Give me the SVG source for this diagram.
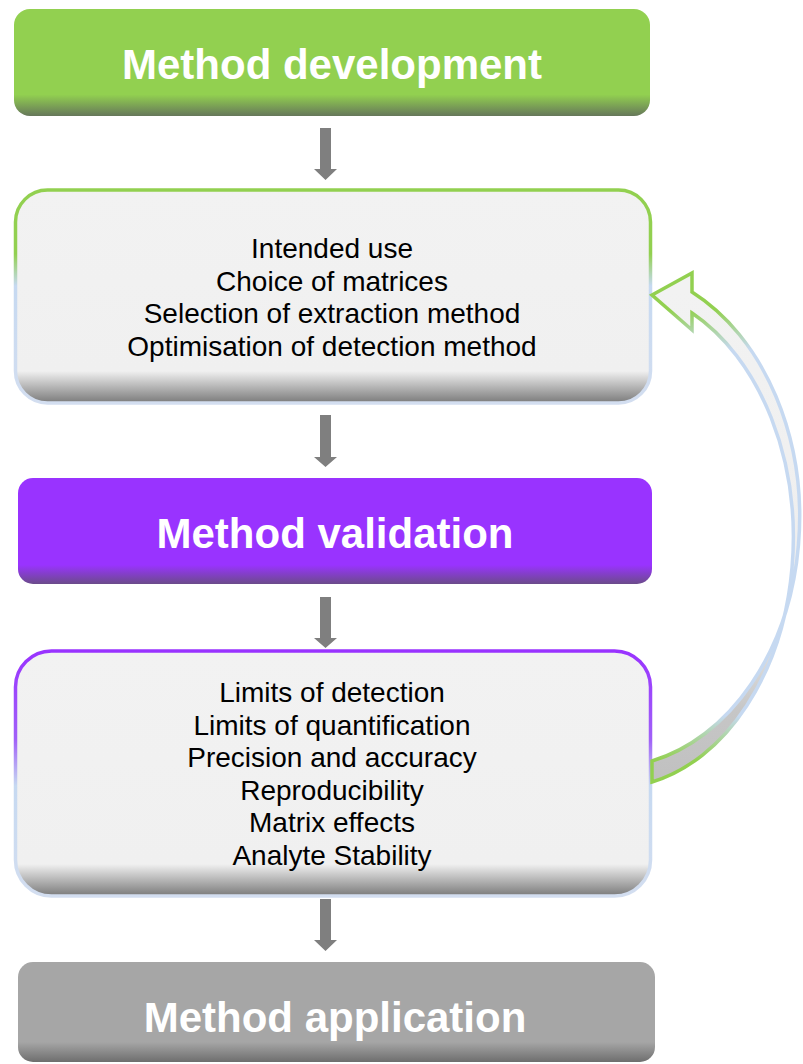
<svg xmlns="http://www.w3.org/2000/svg" width="803" height="1064" viewBox="0 0 803 1064">
<defs>
<linearGradient id="gGreen" x1="0" y1="0" x2="0" y2="1">
<stop offset="0" stop-color="#92d050"/><stop offset="0.8" stop-color="#92d050"/><stop offset="1" stop-color="#66775a"/>
</linearGradient>
<linearGradient id="gPurple" x1="0" y1="0" x2="0" y2="1">
<stop offset="0" stop-color="#9933ff"/><stop offset="0.82" stop-color="#9933ff"/><stop offset="1" stop-color="#6b4c8a"/>
</linearGradient>
<linearGradient id="gGray" x1="0" y1="0" x2="0" y2="1">
<stop offset="0" stop-color="#a6a6a6"/><stop offset="0.8" stop-color="#a6a6a6"/><stop offset="1" stop-color="#6e6e6e"/>
</linearGradient>
<linearGradient id="gLight" x1="0" y1="0" x2="0" y2="1">
<stop offset="0" stop-color="#f2f2f2"/><stop offset="0.85" stop-color="#f0f0f0"/><stop offset="1" stop-color="#7a7a7a"/>
</linearGradient>
<linearGradient id="gLight4" x1="0" y1="0" x2="0" y2="1">
<stop offset="0" stop-color="#f2f2f2"/><stop offset="0.87" stop-color="#f0f0f0"/><stop offset="1" stop-color="#7a7a7a"/>
</linearGradient>
<linearGradient id="bGreen" x1="0" y1="0" x2="0" y2="1">
<stop offset="0" stop-color="#92d050"/><stop offset="0.3" stop-color="#92d050"/><stop offset="0.45" stop-color="#c6d9f1"/><stop offset="1" stop-color="#d3def0"/>
</linearGradient>
<linearGradient id="bPurple" x1="0" y1="0" x2="0" y2="1">
<stop offset="0" stop-color="#9933ff"/><stop offset="0.36" stop-color="#a060f8"/><stop offset="0.55" stop-color="#c6d9f1"/><stop offset="1" stop-color="#d3def0"/>
</linearGradient>
<linearGradient id="aStroke" gradientUnits="userSpaceOnUse" x1="0" y1="290" x2="0" y2="785">
<stop offset="0" stop-color="#92d050"/><stop offset="0.04" stop-color="#92d050"/><stop offset="0.12" stop-color="#c6d9f1"/><stop offset="0.86" stop-color="#c6d9f1"/><stop offset="0.95" stop-color="#92d050"/><stop offset="1" stop-color="#92d050"/>
</linearGradient>
<linearGradient id="aFill" gradientUnits="userSpaceOnUse" x1="0" y1="290" x2="0" y2="785">
<stop offset="0" stop-color="#f2f2f2"/><stop offset="0.65" stop-color="#eeeeee"/><stop offset="0.85" stop-color="#c6c6c6"/><stop offset="1" stop-color="#c0c0c0"/>
</linearGradient>
<style>
.title{font-family:"Liberation Sans",Arial,sans-serif;font-weight:bold;font-size:42px;fill:#ffffff;text-anchor:middle}
.body{font-family:"Liberation Sans",Arial,sans-serif;font-size:28px;fill:#000000;text-anchor:middle}
.conn{fill:#7f7f7f}
</style>
</defs>
<rect width="803" height="1064" fill="#ffffff"/>

<g id="connectors">
<path class="conn" d="M320,128 H331 V169 H337 L325.5,180 L314,169 H320 Z"/>
<path class="conn" d="M320,415 H331 V457 H337 L325.5,467 L314,457 H320 Z"/>
<path class="conn" d="M320,597 H331 V638 H337 L325.5,648 L314,638 H320 Z"/>
<path class="conn" d="M320,899 H331 V940 H337 L325.5,951 L314,940 H320 Z"/>
</g>

<g id="node-development">
<rect x="14" y="9" width="636" height="107" rx="16" fill="url(#gGreen)"/>
<text class="title" x="332" y="79">Method development</text>
</g>

<g id="node-development-details">
<rect x="15.5" y="190" width="635" height="213" rx="32" fill="url(#gLight)" stroke="url(#bGreen)" stroke-width="3.5"/>
<text class="body" x="332" y="258">Intended use<tspan x="332" dy="32.5">Choice of matrices</tspan><tspan x="332" dy="32.5">Selection of extraction method</tspan><tspan x="332" dy="32.5">Optimisation of detection method</tspan></text>
</g>

<g id="node-validation">
<rect x="18" y="478" width="634" height="106" rx="15" fill="url(#gPurple)"/>
<text class="title" x="335" y="548">Method validation</text>
</g>

<g id="node-validation-details">
<rect x="15.5" y="651" width="635" height="245" rx="36" fill="url(#gLight4)" stroke="url(#bPurple)" stroke-width="3.5"/>
<text class="body" x="332" y="702">Limits of detection<tspan x="332" dy="32.5">Limits of quantification</tspan><tspan x="332" dy="32.5">Precision and accuracy</tspan><tspan x="332" dy="32.5">Reproducibility</tspan><tspan x="332" dy="32.5">Matrix effects</tspan><tspan x="332" dy="32.5">Analyte Stability</tspan></text>
</g>

<g id="node-application">
<rect x="18" y="962" width="637" height="100" rx="15" fill="url(#gGray)"/>
<text class="title" x="335" y="1032">Method application</text>
</g>

<g id="feedback-arrow">
<path d="M652,295 L692,273 L692,292 A190 250 0 0 1 652,761 L652,782 A180 250 0 0 0 692,313 L692,330 Z" fill="url(#aFill)" stroke="url(#aStroke)" stroke-width="3.5" stroke-linejoin="miter"/>
</g>
</svg>
